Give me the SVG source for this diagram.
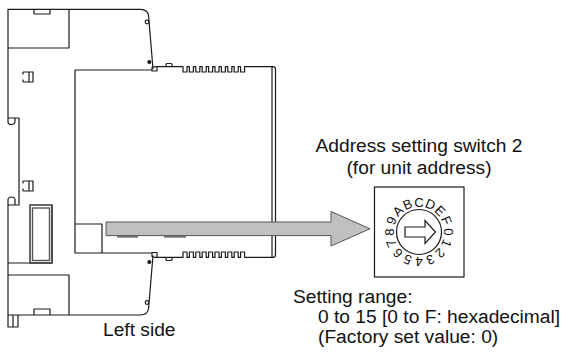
<svg xmlns="http://www.w3.org/2000/svg" width="571" height="354" viewBox="0 0 571 354">
<style>
.ln{fill:none;stroke:#1a1a1a;stroke-width:1.2;stroke-linejoin:round}
.wf{fill:#fff;stroke:#1a1a1a;stroke-width:1.2}
.dg{fill:#111;font-family:"Liberation Sans",Arial,sans-serif;font-size:13.2px;text-anchor:middle}
.lb{fill:#111;font-family:"Liberation Sans",Arial,sans-serif;font-size:19.2px}
</style>
<rect width="571" height="354" fill="#fff"/>
<g id="housing">
<path class="ln" d="M8 118 V9.3 H140 Q148 9.3 148.6 16 L153 69"/>
<path class="ln" d="M153 255.5 L148.6 308 Q148 315 140 315 H8 V205 H19 V118 H8"/>
<path class="ln" d="M8 118 V122 Q8 124.5 11.5 124.5 Q15 124.5 15 121 V118"/>
<path class="ln" d="M8 205 V200 Q8 197 11.5 197 Q15 197 15 200 V205"/>
<path class="ln" d="M8 48 H69 V9.3"/>
<path class="ln" d="M8 275 H69 V315"/>
<path class="ln" d="M34 9.3 V14 H50 V9.3"/>
<path class="ln" d="M34 315 V309 H50 V315"/>
<path class="ln" d="M8 315 V327 H18 V315 M13 315 V327"/>
<path class="ln" d="M8 263 H52 V205"/>
<rect x="30" y="205" width="22" height="58" fill="none" stroke="#444" stroke-width="1.6"/>
<rect x="32.5" y="208" width="17" height="52.5" fill="none" stroke="#555" stroke-width="1.4"/>
<path class="ln" d="M23 72 H33 V82 H23 M23 72 V74.5 M23 82 V79.5 M29 72 V82"/>
<path class="ln" d="M23 181 H33 V191 H23 M23 181 V183.5 M23 191 V188.5 M29 181 V191"/>
<circle class="wf" cx="147" cy="22" r="1.8"/>
<circle cx="149.3" cy="62" r="2" fill="#111"/>
<circle cx="149.3" cy="262" r="2" fill="#111"/>
<circle class="wf" cx="147" cy="302.5" r="1.8"/>
</g>
<g id="front">
<path class="ln" d="M152 70 H75 V253 H152"/>
<path class="ln" d="M75 224 H102 V253"/>
</g>
<g id="module">
<path class="ln" d="M152 71 V67.5 L154.5 66.7 H157 V71 Z"/>
<path class="ln" d="M152 252.5 V256.5 L154.5 257.3 H157 V252.5 Z"/>
<path class="ln" d="M157 66.7 H183 V72 H187 V66.7 H189.4 V72 H193.4 V66.7 H195.8 V72 H199.8 V66.7 H202.2 V72 H206.2 V66.7 H208.6 V72 H212.6 V66.7 H215 V72 H219 V66.7 H221.4 V72 H225.4 V66.7 H227.8 V72 H231.8 V66.7 H234.2 V72 H238.2 V66.7 H240.6 V72 H244.6 V66.7 H273 Q275.5 66.7 275.5 69.5 V254.5 Q275.5 257.3 273 257.3 H244.6 V252 H240.6 V257.3 H238.2 V252 H234.2 V257.3 H231.8 V252 H227.8 V257.3 H225.4 V252 H221.4 V257.3 H219 V252 H215 V257.3 H212.6 V252 H208.6 V257.3 H206.2 V252 H202.2 V257.3 H199.8 V252 H195.8 V257.3 H193.4 V252 H189.4 V257.3 H187 V252 H183 V257.3 H157"/>
<path class="ln" d="M272 67 V257"/>
<path class="ln" d="M166 66.7 V64.5 Q166 63.5 167 63.5 H171 Q172 63.5 172 64.5 V66.7"/>
<path class="ln" d="M166 257.3 V259.5 Q166 260.5 167 260.5 H171 Q172 260.5 172 259.5 V257.3"/>
</g>
<g id="connectors">
<path d="M106 222 H331 V211.5 L370 228.8 L331 246 V235.6 H106 Z" fill="#c0c0c0" stroke="#555" stroke-width="1"/>
<path d="M117 236.8 H138 M164 236.8 H186" stroke="#444" stroke-width="1.3"/>
</g>
<g id="switch">
<rect x="374.5" y="187" width="89.5" height="90" class="wf"/>
<circle cx="419" cy="232" r="22.5" class="wf"/>
<path class="wf" d="M405 227 H425 V220.5 L435.5 232 L425 243.5 V237 H405 Z"/>
<g transform="translate(419 232)">
<text class="dg" transform="rotate(90)" x="0" y="-25.3">0</text>
<text class="dg" transform="rotate(112.5)" x="0" y="-25.3">1</text>
<text class="dg" transform="rotate(135)" x="0" y="-25.3">2</text>
<text class="dg" transform="rotate(157.5)" x="0" y="-25.3">3</text>
<text class="dg" transform="rotate(180)" x="0" y="-25.3">4</text>
<text class="dg" transform="rotate(202.5)" x="0" y="-25.3">5</text>
<text class="dg" transform="rotate(225)" x="0" y="-25.3">6</text>
<text class="dg" transform="rotate(247.5)" x="0" y="-25.3">7</text>
<text class="dg" transform="rotate(270)" x="0" y="-25.3">8</text>
<text class="dg" transform="rotate(292.5)" x="0" y="-25.3">9</text>
<text class="dg" transform="rotate(315)" x="0" y="-25.3">A</text>
<text class="dg" transform="rotate(337.5)" x="0" y="-25.3">B</text>
<text class="dg" transform="rotate(0)" x="0" y="-25.3">C</text>
<text class="dg" transform="rotate(22.5)" x="0" y="-25.3">D</text>
<text class="dg" transform="rotate(45)" x="0" y="-25.3">E</text>
<text class="dg" transform="rotate(67.5)" x="0" y="-25.3">F</text>
</g>
</g>
<g id="labels">
<text class="lb" x="419" y="152" text-anchor="middle" font-size="21">Address setting switch 2</text>
<text class="lb" x="419" y="174" text-anchor="middle" font-size="21">(for unit address)</text>
<text class="lb" x="103" y="335.5" font-size="16.5">Left side</text>
<text class="lb" x="293" y="303">Setting range:</text>
<text class="lb" x="318" y="323">0 to 15 [0 to F: hexadecimal]</text>
<text class="lb" x="318" y="343">(Factory set value: 0)</text>
</g>
</svg>
